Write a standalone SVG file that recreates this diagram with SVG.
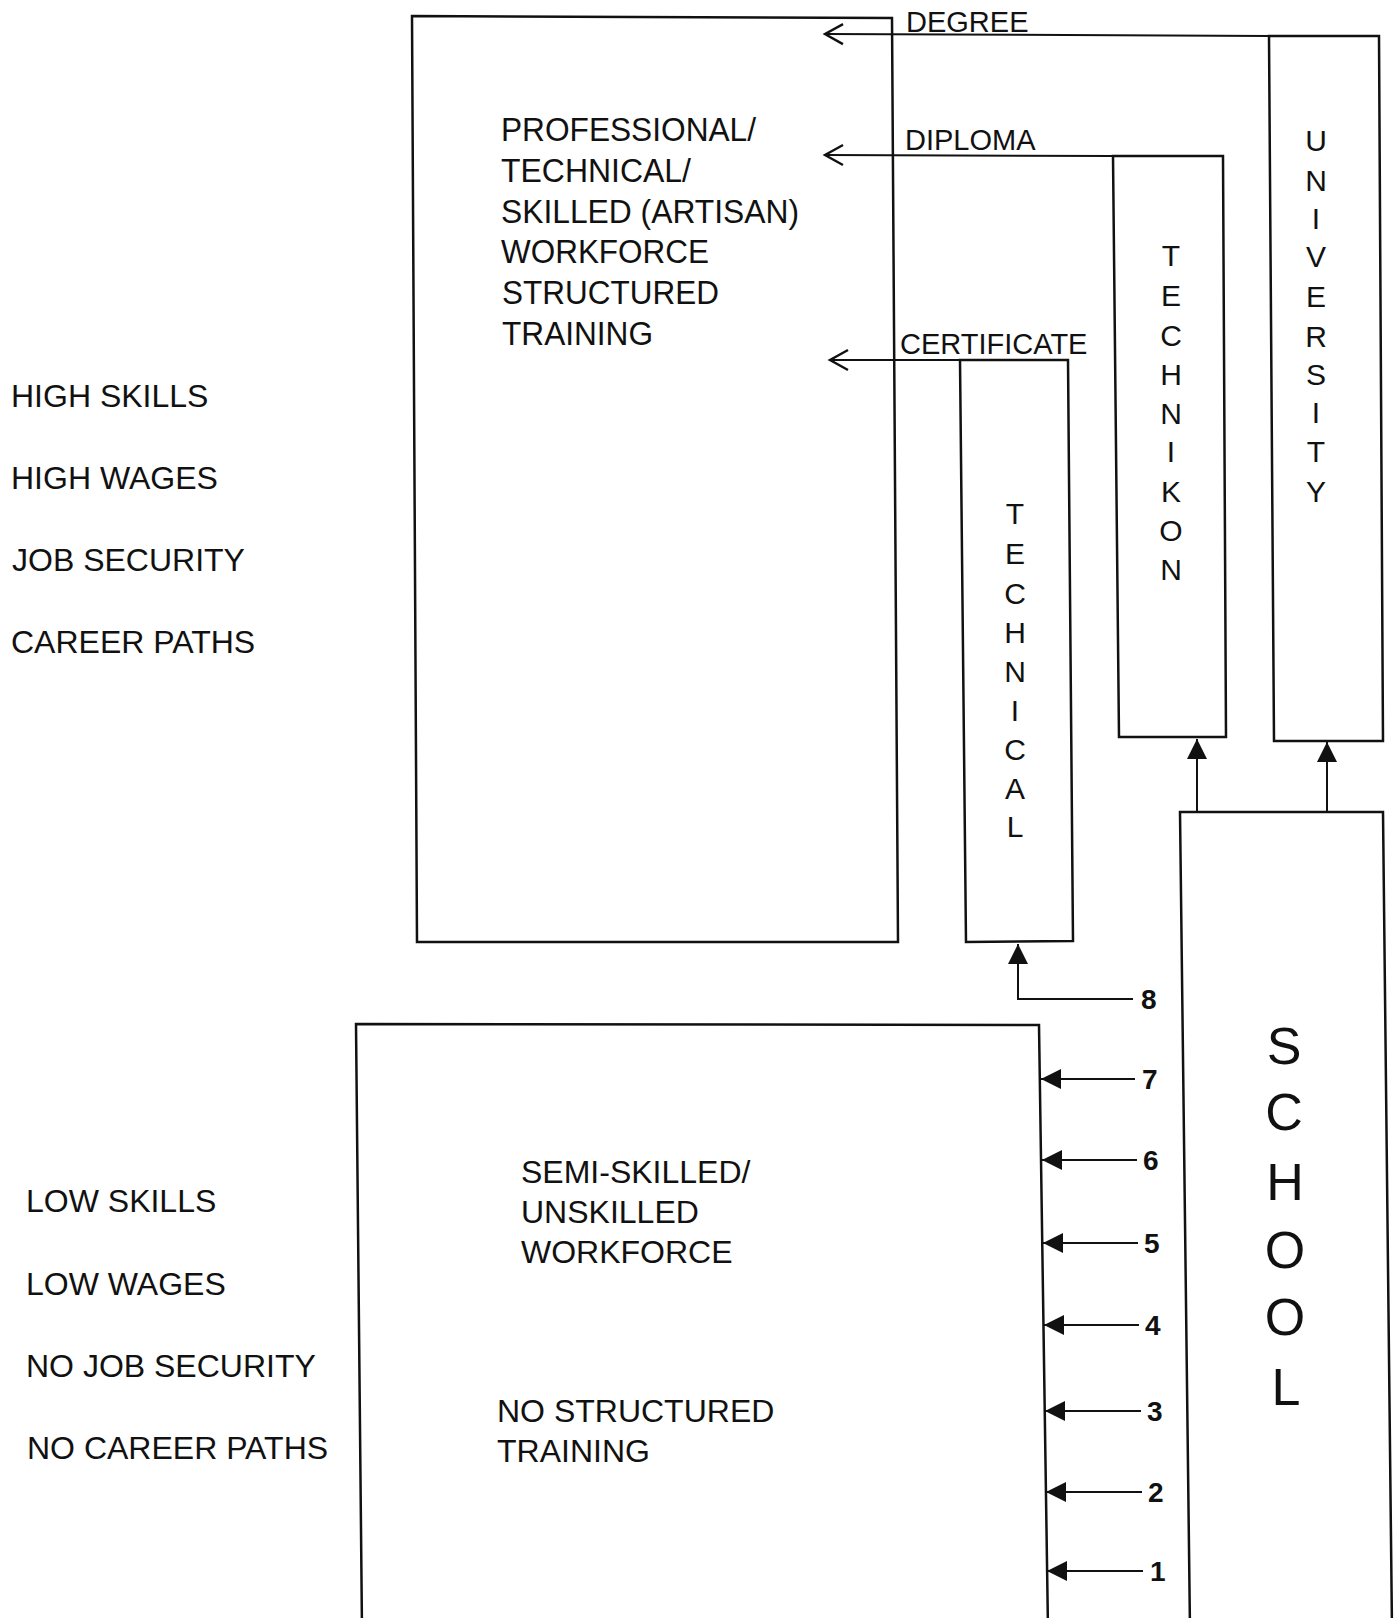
<svg xmlns="http://www.w3.org/2000/svg" width="1399" height="1618" viewBox="0 0 1399 1618">
<style>
.box{fill:none;stroke:#111;stroke-width:2.5;stroke-linejoin:miter}
.ln{fill:none;stroke:#111;stroke-width:2}
.t{font-family:"Liberation Sans",Arial,sans-serif;fill:#111}
.big{font-size:32px}
.up{font-size:33px}
.lbl{font-size:29px}
.num{font-size:28px;font-weight:bold}
.vert{font-size:30px;text-anchor:middle}
.sch{font-size:52px;text-anchor:middle}
</style>
<defs>
<marker id="open" markerWidth="24" markerHeight="24" refX="19" refY="12" orient="auto" markerUnits="userSpaceOnUse">
<path d="M1,2 L19,12 L1,22" fill="none" stroke="#111" stroke-width="2.4"/>
</marker>
<marker id="solid" markerWidth="22" markerHeight="22" refX="20" refY="10" orient="auto" markerUnits="userSpaceOnUse">
<path d="M0,0 L20,10 L0,20 Z" fill="#111"/>
</marker>
</defs>
<rect x="0" y="0" width="1399" height="1618" fill="#fff"/>

<g id="high-labels" class="t big">
<text x="11" y="407">HIGH SKILLS</text>
<text x="11" y="489">HIGH WAGES</text>
<text x="12" y="571">JOB SECURITY</text>
<text x="11" y="653">CAREER PATHS</text>
</g>

<g id="low-labels" class="t big">
<text x="26" y="1212">LOW SKILLS</text>
<text x="26" y="1295">LOW WAGES</text>
<text x="26" y="1377">NO JOB SECURITY</text>
<text x="27" y="1459">NO CAREER PATHS</text>
</g>

<g id="professional">
<polygon class="box" points="412,16 892,18 898,942 417,942"/>
<g class="t up">
<text x="501" y="141" textLength="255" lengthAdjust="spacingAndGlyphs">PROFESSIONAL/</text>
<text x="501" y="182" textLength="190" lengthAdjust="spacingAndGlyphs">TECHNICAL/</text>
<text x="501" y="223" textLength="298" lengthAdjust="spacingAndGlyphs">SKILLED (ARTISAN)</text>
<text x="501" y="263" textLength="208" lengthAdjust="spacingAndGlyphs">WORKFORCE</text>
<text x="502" y="304" textLength="217" lengthAdjust="spacingAndGlyphs">STRUCTURED</text>
<text x="502" y="345" textLength="151" lengthAdjust="spacingAndGlyphs">TRAINING</text>
</g>
</g>

<g id="semiskilled">
<polygon class="box" points="356,1024 1039,1025 1048,1630 362,1630"/>
<g class="t big">
<text x="521" y="1183">SEMI-SKILLED/</text>
<text x="521" y="1223">UNSKILLED</text>
<text x="521" y="1263">WORKFORCE</text>
<text x="497" y="1422">NO STRUCTURED</text>
<text x="497" y="1462">TRAINING</text>
</g>
</g>

<g id="university">
<polygon class="box" points="1269,36 1379,36 1383,741 1274,741"/>
<g class="t vert">
<text x="1316" y="151">U</text>
<text x="1316" y="191">N</text>
<text x="1316" y="229">I</text>
<text x="1316" y="267">V</text>
<text x="1316" y="307">E</text>
<text x="1316" y="347">R</text>
<text x="1316" y="385">S</text>
<text x="1316" y="423">I</text>
<text x="1316" y="462">T</text>
<text x="1316" y="502">Y</text>
</g>
</g>

<g id="technikon">
<polygon class="box" points="1113,156 1223,156 1226,737 1119,737"/>
<g class="t vert">
<text x="1171" y="266">T</text>
<text x="1171" y="306">E</text>
<text x="1171" y="346">C</text>
<text x="1171" y="385">H</text>
<text x="1171" y="424">N</text>
<text x="1171" y="462">I</text>
<text x="1171" y="502">K</text>
<text x="1171" y="541">O</text>
<text x="1171" y="580">N</text>
</g>
</g>

<g id="technical">
<polygon class="box" points="960,360 1068,360 1073,941 966,942"/>
<g class="t vert">
<text x="1015" y="524">T</text>
<text x="1015" y="564">E</text>
<text x="1015" y="604">C</text>
<text x="1015" y="643">H</text>
<text x="1015" y="682">N</text>
<text x="1015" y="721">I</text>
<text x="1015" y="760">C</text>
<text x="1015" y="799">A</text>
<text x="1015" y="837">L</text>
</g>
</g>

<g id="school">
<polygon class="box" points="1180,812 1383,812 1392,1630 1190,1630"/>
<g class="t sch">
<text x="1284" y="1064">S</text>
<text x="1284" y="1130">C</text>
<text x="1285" y="1200">H</text>
<text x="1285" y="1268">O</text>
<text x="1285" y="1335">O</text>
<text x="1286" y="1405">L</text>
</g>
</g>

<g id="connectors">
<line class="ln" x1="1269" y1="36" x2="825" y2="34" marker-end="url(#open)"/>
<line class="ln" x1="1113" y1="156" x2="825" y2="155" marker-end="url(#open)"/>
<line class="ln" x1="960" y1="360" x2="830" y2="360" marker-end="url(#open)"/>
<line class="ln" x1="1197" y1="812" x2="1197" y2="739" marker-end="url(#solid)"/>
<line class="ln" x1="1327" y1="812" x2="1327" y2="742" marker-end="url(#solid)"/>
<polyline class="ln" points="1133,999 1018,999 1018,944" marker-end="url(#solid)"/>
<line class="ln" x1="1135" y1="1079" x2="1041" y2="1079" marker-end="url(#solid)"/>
<line class="ln" x1="1137" y1="1160" x2="1042" y2="1160" marker-end="url(#solid)"/>
<line class="ln" x1="1138" y1="1243" x2="1043" y2="1243" marker-end="url(#solid)"/>
<line class="ln" x1="1139" y1="1325" x2="1044" y2="1325" marker-end="url(#solid)"/>
<line class="ln" x1="1141" y1="1411" x2="1045" y2="1411" marker-end="url(#solid)"/>
<line class="ln" x1="1142" y1="1492" x2="1046" y2="1492" marker-end="url(#solid)"/>
<line class="ln" x1="1143" y1="1571" x2="1047" y2="1571" marker-end="url(#solid)"/>
</g>

<g id="connector-labels" class="t">
<text class="lbl" x="906" y="32">DEGREE</text>
<text class="lbl" x="905" y="150">DIPLOMA</text>
<text class="lbl" x="900" y="354">CERTIFICATE</text>
<text class="num" x="1141" y="1009">8</text>
<text class="num" x="1142" y="1089">7</text>
<text class="num" x="1143" y="1170">6</text>
<text class="num" x="1144" y="1253">5</text>
<text class="num" x="1145" y="1335">4</text>
<text class="num" x="1147" y="1421">3</text>
<text class="num" x="1148" y="1502">2</text>
<text class="num" x="1150" y="1581">1</text>
</g>
</svg>
